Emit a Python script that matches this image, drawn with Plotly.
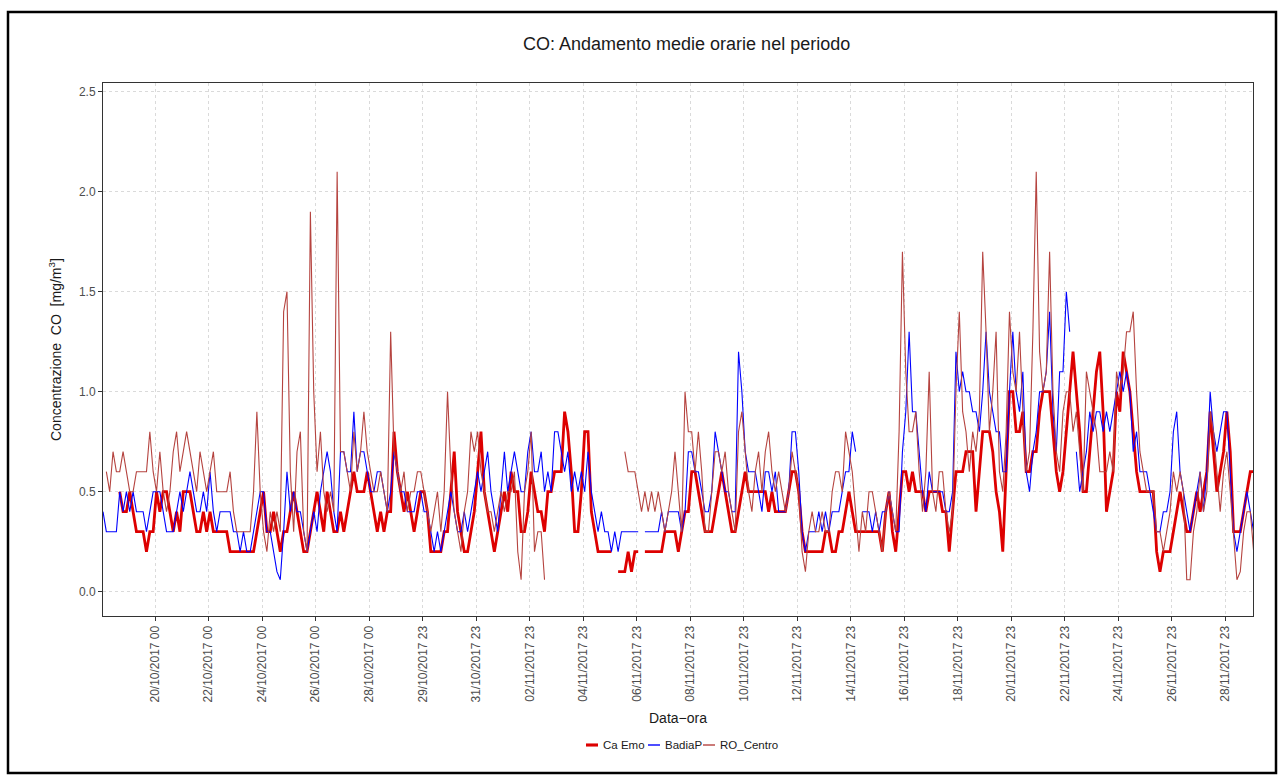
import pandas as pd
import plotly.graph_objects as go

# ---------------- data (3-hourly readings, mg/m3) ----------------
START = "2017-10-18 01:20"
STEP_HOURS = 3
X_END = "2017-11-30 00:45"

CA_EMO = [
    None, None, None, None, None, 0.5, 0.4, 0.4, 0.5, 0.4,
    0.3, 0.3, 0.3, 0.2, 0.3, 0.3, 0.5, 0.4, 0.5, 0.5,
    0.4, 0.3, 0.4, 0.3, 0.5, 0.5, 0.5, 0.4, 0.3, 0.3,
    0.4, 0.3, 0.4, 0.3, 0.3, 0.3, 0.3, 0.3, 0.2, 0.2,
    0.2, 0.2, 0.2, 0.2, 0.2, 0.2, 0.3, 0.4, 0.5, 0.3,
    0.3, 0.4, 0.3, 0.2, 0.3, 0.3, 0.4, 0.5, 0.4, 0.3,
    0.2, 0.2, 0.3, 0.4, 0.5, 0.4, 0.3, 0.5, 0.4, 0.3,
    0.3, 0.4, 0.3, 0.4, 0.5, 0.6, 0.5, 0.5, 0.5, 0.6,
    0.5, 0.4, 0.3, 0.4, 0.3, 0.4, 0.4, 0.8, 0.6, 0.5,
    0.4, 0.5, 0.4, 0.3, 0.4, 0.5, 0.5, 0.4, 0.2, 0.2,
    0.2, 0.2, 0.3, 0.3, 0.5, 0.7, 0.4, 0.3, 0.2, 0.2,
    0.3, 0.4, 0.6, 0.8, 0.5, 0.4, 0.3, 0.2, 0.3, 0.4,
    0.5, 0.4, 0.6, 0.5, 0.5, 0.3, 0.3, 0.4, 0.6, 0.5,
    0.4, 0.4, 0.3, 0.5, 0.5, 0.6, 0.6, 0.6, 0.9, 0.8,
    0.6, 0.3, 0.3, 0.5, 0.8, 0.8, 0.4, 0.3, 0.2, 0.2,
    0.2, 0.2, 0.2, None, 0.1, 0.1, 0.1, 0.2, 0.1, 0.2,
    0.2, None, 0.2, 0.2, 0.2, 0.2, 0.2, 0.2, 0.3, 0.3,
    0.3, 0.3, 0.2, 0.3, 0.4, 0.4, 0.6, 0.6, 0.5, 0.4,
    0.3, 0.3, 0.3, 0.4, 0.5, 0.6, 0.5, 0.4, 0.3, 0.3,
    0.4, 0.5, 0.6, 0.5, 0.5, 0.5, 0.5, 0.5, 0.5, 0.4,
    0.5, 0.4, 0.4, 0.4, 0.4, 0.5, 0.6, 0.6, 0.5, 0.3,
    0.2, 0.2, 0.2, 0.2, 0.2, 0.2, 0.3, 0.3, 0.2, 0.2,
    0.3, 0.3, 0.4, 0.5, 0.4, 0.3, 0.3, 0.3, 0.3, 0.3,
    0.3, 0.3, 0.3, 0.2, 0.4, 0.5, 0.3, 0.2, 0.4, 0.6,
    0.6, 0.5, 0.6, 0.5, 0.5, 0.5, 0.4, 0.5, 0.5, 0.5,
    0.5, 0.4, 0.4, 0.2, 0.4, 0.6, 0.6, 0.6, 0.7, 0.7,
    0.7, 0.4, 0.6, 0.8, 0.8, 0.8, 0.7, 0.5, 0.4, 0.2,
    0.6, 1.0, 1.0, 0.8, 0.8, 0.9, 0.6, 0.6, 0.7, 0.7,
    0.9, 1.0, 1.0, 1.0, 0.8, 0.6, 0.5, 0.6, 0.8, 1.0,
    1.2, 1.0, 0.8, 0.5, 0.5, 0.7, 0.9, 1.1, 1.2, 0.9,
    0.4, 0.5, 0.6, 1.0, 0.9, 1.2, 1.1, 1.0, 0.8, 0.6,
    0.5, 0.5, 0.5, 0.5, 0.5, 0.2, 0.1, 0.2, 0.2, 0.2,
    0.3, 0.4, 0.5, 0.4, 0.3, 0.3, 0.4, 0.5, 0.4, 0.5,
    0.6, 0.9, 0.7, 0.5, 0.6, 0.7, 0.9, 0.7, 0.3, 0.3,
    0.3, 0.4, 0.5, 0.6, 0.6,
]

BADIAP = [
    0.4, 0.3, 0.3, 0.3, 0.3, 0.5, 0.4, 0.5, 0.4, 0.5,
    0.4, 0.4, 0.4, 0.3, 0.4, 0.5, 0.5, 0.5, 0.4, 0.3,
    0.3, 0.3, 0.4, 0.5, 0.4, 0.5, 0.6, 0.5, 0.4, 0.4,
    0.5, 0.4, 0.6, 0.4, 0.3, 0.4, 0.4, 0.4, 0.4, 0.3,
    0.3, 0.2, 0.3, 0.2, 0.2, 0.3, 0.4, 0.5, 0.5, 0.3,
    0.3, 0.2, 0.1, 0.06, 0.3, 0.6, 0.4, 0.5, 0.4, 0.4,
    0.3, 0.2, 0.3, 0.4, 0.3, 0.5, 0.6, 0.7, 0.6, 0.4,
    0.3, 0.7, 0.7, 0.6, 0.6, 0.9, 0.6, 0.7, 0.7, 0.6,
    0.5, 0.5, 0.6, 0.6, 0.5, 0.4, 0.5, 0.7, 0.6, 0.5,
    0.5, 0.4, 0.4, 0.4, 0.5, 0.5, 0.4, 0.4, 0.3, 0.2,
    0.3, 0.2, 0.3, 0.4, 0.5, 0.4, 0.3, 0.3, 0.4, 0.3,
    0.4, 0.5, 0.6, 0.5, 0.6, 0.7, 0.5, 0.4, 0.3, 0.5,
    0.7, 0.5, 0.6, 0.7, 0.6, 0.5, 0.5, 0.7, 0.8, 0.6,
    0.6, 0.7, 0.5, 0.6, 0.5, 0.8, 0.8, 0.7, 0.6, 0.7,
    0.5, 0.6, 0.5, 0.6, 0.5, 0.7, 0.5, 0.4, 0.3, 0.4,
    0.3, 0.3, 0.2, 0.3, 0.2, 0.3, 0.3, 0.3, 0.3, 0.3,
    0.3, None, 0.3, 0.3, 0.3, 0.3, 0.3, 0.4, 0.3, 0.4,
    0.4, 0.4, 0.4, 0.3, 0.4, 0.7, 0.7, 0.6, 0.6, 0.5,
    0.4, 0.4, 0.5, 0.8, 0.7, 0.6, 0.5, 0.5, 0.4, 0.4,
    1.2, 1.0, 0.7, 0.6, 0.6, 0.6, 0.5, 0.4, 0.6, 0.6,
    0.5, 0.6, 0.4, 0.4, 0.4, 0.5, 0.8, 0.8, 0.6, 0.3,
    0.2, 0.3, 0.3, 0.3, 0.4, 0.3, 0.4, 0.3, 0.4, 0.4,
    0.4, 0.5, 0.6, 0.6, 0.8, 0.7, None, 0.4, 0.4, 0.4,
    0.3, 0.4, 0.3, 0.4, 0.4, 0.5, 0.4, 0.3, 0.3, 0.7,
    0.9, 1.3, 0.9, 0.9, 0.7, 0.5, 0.4, 0.6, 0.5, 0.5,
    0.5, 0.5, 0.4, 0.4, 0.5, 1.2, 1.0, 1.1, 1.0, 1.0,
    0.9, 0.9, 0.8, 1.0, 1.3, 1.0, 0.9, 0.8, 0.8, 0.6,
    0.6, 1.0, 1.3, 1.0, 0.9, 1.1, 0.6, 0.5, 0.7, 0.8,
    1.0, 1.0, 1.1, 1.4, 0.9, 0.7, 1.1, 1.1, 1.5, 1.3,
    None, 0.7, 0.5, 0.6, 0.7, 0.9, 0.8, 0.9, 0.9, 0.8,
    0.9, 0.8, 0.9, 1.0, 1.1, 1.0, 1.1, 1.0, 0.7, 0.8,
    0.6, 0.6, 0.6, 0.5, 0.4, 0.3, 0.3, 0.4, 0.4, 0.5,
    0.8, 0.9, 0.6, 0.5, 0.4, 0.3, 0.4, 0.5, 0.6, 0.4,
    0.6, 1.0, 0.8, 0.7, 0.8, 0.9, 0.9, 0.6, 0.3, 0.2,
    0.3, 0.4, 0.5, 0.4, 0.3,
]

RO_CENTRO = [
    None, 0.6, 0.5, 0.7, 0.6, 0.6, 0.7, 0.6, 0.5, 0.5,
    0.6, 0.6, 0.6, 0.6, 0.8, 0.6, 0.5, 0.7, 0.5, 0.4,
    0.5, 0.7, 0.8, 0.6, 0.7, 0.8, 0.7, 0.6, 0.5, 0.7,
    0.6, 0.5, 0.6, 0.7, 0.5, 0.5, 0.5, 0.5, 0.6, 0.4,
    0.3, 0.3, 0.3, 0.3, 0.3, 0.5, 0.9, 0.5, 0.3, 0.2,
    0.4, 0.3, 0.4, 0.3, 1.4, 1.5, 0.6, 0.3, 0.7, 0.8,
    0.3, 0.2, 1.9, 1.0, 0.6, 0.8, 0.5, 0.4, 0.5, 0.4,
    2.1, 0.7, 0.7, 0.6, 0.5, 0.8, 0.6, 0.7, 0.9, 0.7,
    0.6, 0.5, 0.5, 0.6, 0.5, 0.4, 1.3, 0.7, 0.6, 0.5,
    0.6, 0.4, 0.5, 0.5, 0.6, 0.6, 0.5, 0.4, 0.3, 0.4,
    0.5, 0.3, 0.5, 1.0, 0.6, 0.4, 0.3, 0.2, 0.4, 0.5,
    0.8, 0.7, 0.8, 0.6, 0.5, 0.4, 0.4, 0.3, 0.4, 0.5,
    0.4, 0.5, 0.5, 0.6, 0.2, 0.06, 0.5, 0.6, 0.8, 0.2,
    0.3, 0.3, 0.06, None, None, None, None, None, None, None,
    None, None, None, None, None, None, None, None, None, None,
    None, None, None, None, None, None, 0.7, 0.6, 0.6, 0.6,
    0.5, 0.4, 0.5, 0.4, 0.5, 0.4, 0.5, 0.4, 0.3, 0.4,
    0.5, 0.7, 0.5, 0.3, 1.0, 0.8, 0.8, 0.6, 0.8, 0.6,
    0.3, 0.3, 0.5, 0.7, 0.7, 0.6, 0.7, 0.5, 0.4, 0.3,
    0.8, 0.9, 0.7, 0.5, 0.4, 0.6, 0.7, 0.5, 0.7, 0.8,
    0.6, 0.5, 0.6, 0.5, 0.4, 0.5, 0.7, 0.6, 0.5, 0.2,
    0.1, 0.3, 0.4, 0.3, 0.3, 0.4, 0.3, 0.3, 0.5, 0.6,
    0.6, 0.5, 0.8, 0.7, 0.6, 0.4, 0.2, 0.4, 0.3, 0.5,
    0.5, 0.4, 0.3, 0.2, 0.4, 0.5, 0.4, 0.3, 0.8, 1.7,
    1.1, 0.8, 0.8, 0.9, 0.6, 0.4, 0.6, 1.1, 0.5, 0.4,
    0.6, 0.6, 0.4, 0.3, 0.4, 1.0, 1.4, 0.9, 0.8, 0.6,
    0.8, 0.7, 0.9, 1.7, 1.3, 0.8, 1.0, 1.3, 0.6, 0.5,
    0.8, 1.4, 1.1, 1.0, 1.3, 0.9, 0.6, 0.7, 1.3, 2.1,
    1.2, 1.0, 1.1, 1.7, 1.0, 0.7, 0.6, 0.9, 1.0, 1.0,
    0.8, 0.9, 0.7, 0.5, 1.1, 1.0, 0.9, 0.8, 0.6, 0.6,
    0.6, 0.7, 0.6, 1.1, 1.0, 1.1, 1.3, 1.3, 1.4, 1.0,
    0.7, 0.6, 0.5, 0.5, 0.5, 0.3, 0.3, 0.2, 0.3, 0.4,
    0.6, 0.5, 0.6, 0.5, 0.06, 0.06, 0.3, 0.4, 0.6, 0.4,
    0.5, 0.9, 0.8, 0.6, 0.4, 0.6, 0.7, 0.5, 0.3, 0.06,
    0.1, 0.3, 0.4, 0.4, 0.2,
]

SERIES_NAMES = ["Ca Emo", "BadiaP", "RO_Centro"]

FIRST_TICK = "2017-10-20 00:00"
TICK_LABELS = [
    "20/10/2017 00", "22/10/2017 00", "24/10/2017 00", "26/10/2017 00",
    "28/10/2017 00", "29/10/2017 23", "31/10/2017 23", "02/11/2017 23",
    "04/11/2017 23", "06/11/2017 23", "08/11/2017 23", "10/11/2017 23",
    "12/11/2017 23", "14/11/2017 23", "16/11/2017 23", "18/11/2017 23",
    "20/11/2017 23", "22/11/2017 23", "24/11/2017 23", "26/11/2017 23",
    "28/11/2017 23",
]
Y_TICKS = [0.0, 0.5, 1.0, 1.5, 2.0, 2.5]
Y_RANGE = [-0.1215, 2.5435]

# ---------------- styling ----------------
W, H = 1281, 776
ML, MR, MT, MB = 103, 28, 83, 160
PW, PH = W - ML - MR, H - MT - MB
FONT = "Liberation Sans, Arial, Helvetica, sans-serif"

COLORS = {"Ca Emo": "#DD0000", "BadiaP": "#0000FF", "RO_Centro": "#B5433F"}
WIDTHS = {"Ca Emo": 2.8, "BadiaP": 1.1, "RO_Centro": 1.1}


def px(x):
    return (x - ML) / PW


def py(y):
    return 1 - (y - MT) / PH


fig = go.Figure()
for name, vals in zip(SERIES_NAMES, [CA_EMO, BADIAP, RO_CENTRO]):
    t = pd.date_range(START, periods=len(vals), freq=f"{STEP_HOURS}h")
    fig.add_trace(go.Scatter(
        x=t, y=vals, mode="lines", name=name,
        line=dict(color=COLORS[name], width=WIDTHS[name]),
        connectgaps=False, showlegend=False,
    ))

tickvals = pd.date_range(FIRST_TICK, periods=len(TICK_LABELS), freq="48h")

fig.update_layout(
    width=W, height=H,
    margin=dict(l=ML, r=MR, t=MT, b=MB, pad=0),
    paper_bgcolor="white", plot_bgcolor="white",
    font=dict(family=FONT, color="#4D4D4D", size=12),
    xaxis=dict(
        type="date", range=[START, X_END],
        tickmode="array", tickvals=tickvals, ticktext=TICK_LABELS,
        tickangle=-90, tickfont=dict(size=12, color="#4D4D4D"),
        ticks="outside", ticklen=4, tickcolor="#333333",
        showgrid=True, gridcolor="#DADADA", griddash="dot", gridwidth=1,
        showline=True, linecolor="#333333", linewidth=1, mirror=True,
        zeroline=False,
    ),
    yaxis=dict(
        range=Y_RANGE, tickmode="array", tickvals=Y_TICKS, tickformat=".1f",
        tickfont=dict(size=12, color="#4D4D4D"),
        ticks="outside", ticklen=4, tickcolor="#333333",
        showgrid=True, gridcolor="#DADADA", griddash="dot", gridwidth=1,
        showline=True, linecolor="#333333", linewidth=1, mirror=True,
        zeroline=False,
    ),
)

annotations = [
    dict(text="CO: Andamento medie orarie nel periodo", x=px(686), y=py(44),
         font=dict(size=18, color="#1A1A1A")),
    dict(text="Data\u2212ora", x=px(678), y=py(718),
         font=dict(size=14, color="#1A1A1A")),
    dict(text="Concentrazione\u00a0\u00a0CO\u00a0\u00a0[mg/m<sup>3</sup>]", x=px(55), y=py(349),
         textangle=-90, font=dict(size=14, color="#1A1A1A")),
]
for a in annotations:
    a.update(xref="paper", yref="paper", showarrow=False, xanchor="center", yanchor="middle")

shapes = [
    dict(type="rect", xref="paper", yref="paper",
         x0=px(8), x1=px(1276), y0=py(773), y1=py(12),
         line=dict(color="black", width=2.5), fillcolor="rgba(0,0,0,0)", layer="above"),
]

# legend drawn manually (short ggplot-like keys)
LEG_Y = 745
leg_items = [("Ca Emo", 586, 598, 601), ("BadiaP", 648, 660, 663), ("RO_Centro", 703, 715, 718)]
for name, x0, x1, xt in leg_items:
    shapes.append(dict(type="line", xref="paper", yref="paper",
                       x0=px(x0), x1=px(x1), y0=py(LEG_Y), y1=py(LEG_Y),
                       line=dict(color=COLORS[name], width=WIDTHS[name] + 0.3)))
    annotations.append(dict(text=name, xref="paper", yref="paper", x=px(xt), y=py(LEG_Y),
                            xanchor="left", yanchor="middle", showarrow=False,
                            font=dict(size=11.5, color="#1A1A1A")))

fig.update_layout(annotations=annotations, shapes=shapes)

fig.write_html("out.html", config={"displayModeBar": False},
               post_script="document.body.style.margin='0';")
